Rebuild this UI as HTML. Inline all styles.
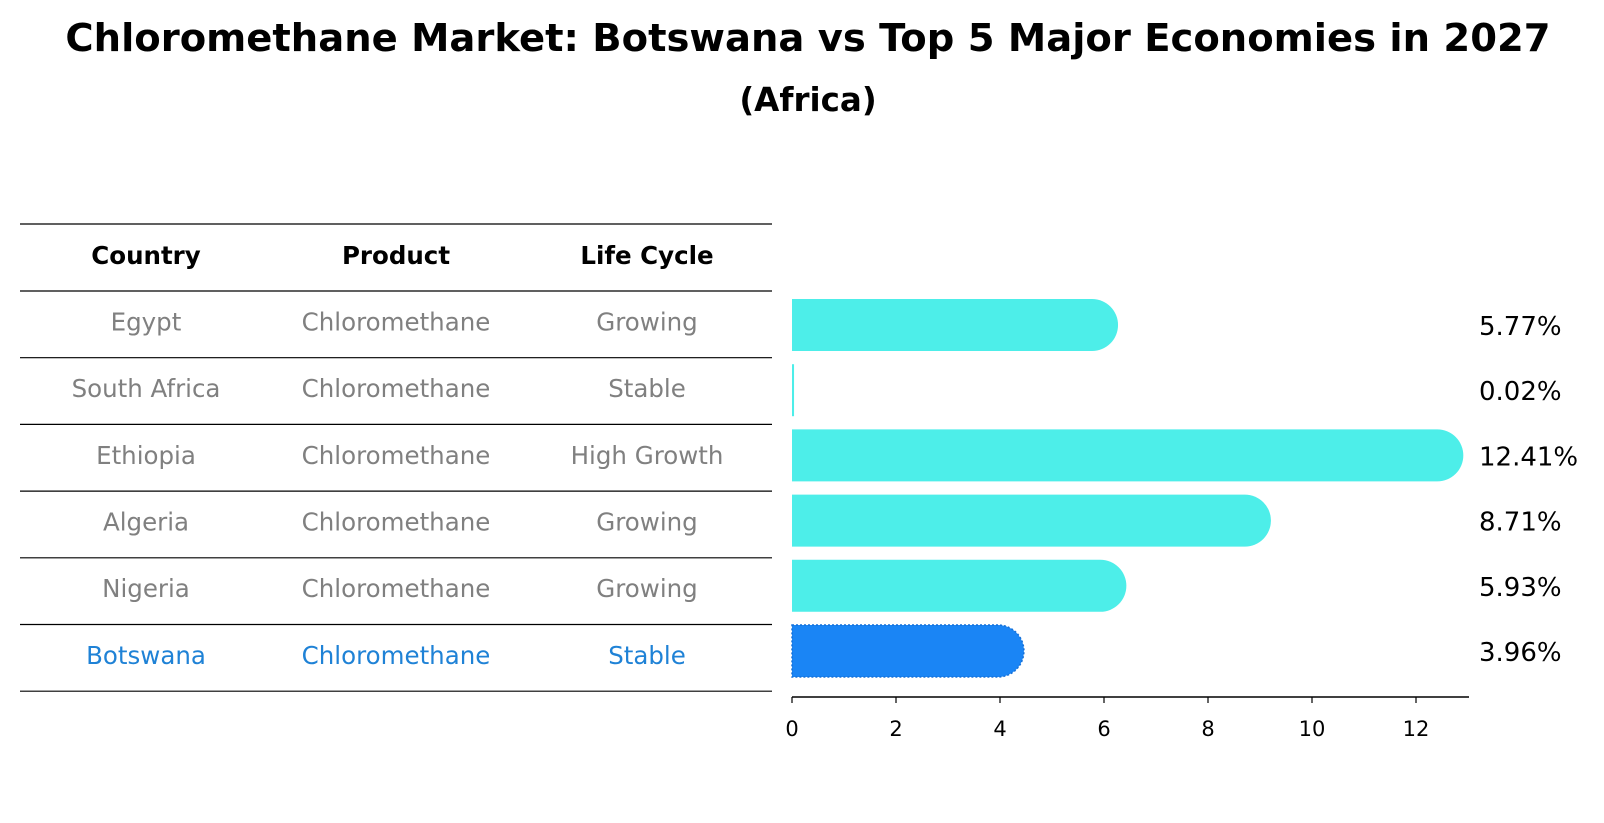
<!DOCTYPE html>
<html><head><meta charset="utf-8"><style>
body{margin:0;background:#fff;}
svg{display:block;font-family:"DejaVu Sans","Liberation Sans",sans-serif;}
</style></head><body>
<svg width="1604" height="823" viewBox="0 0 1604 823" xmlns="http://www.w3.org/2000/svg">
<text x="808" y="51" text-anchor="middle" font-size="38.5" font-weight="bold">Chloromethane Market: Botswana vs Top 5 Major Economies in 2027</text>
<text x="808" y="111" text-anchor="middle" font-size="32.5" font-weight="bold">(Africa)</text>
<g id="table"></g>
<g id="bars"></g>
</svg>
<script>
const countries=["Egypt","South Africa","Ethiopia","Algeria","Nigeria","Botswana"];
const products=["Chloromethane","Chloromethane","Chloromethane","Chloromethane","Chloromethane","Chloromethane"];
const lifeCycles=["Growing","Stable","High Growth","Growing","Growing","Stable"];
const values=[5.77,0.02,12.41,8.71,5.93,3.96];
const tickLabels=[0,2,4,6,8,10,12];
const NS="http://www.w3.org/2000/svg";
function mk(t,a,p){const e=document.createElementNS(NS,t);for(const k in a)e.setAttribute(k,a[k]);p.appendChild(e);return e;}
const tbl=document.getElementById('table');
const lineYs=[224,291];const rowH=66.7;
for(let i=1;i<=countries.length;i++)lineYs.push(291+rowH*i);
lineYs.forEach((y,i)=>{const l=mk('line',{x1:20,x2:772,y1:y,y2:y,stroke:'#000','stroke-width':1.2},tbl);

});
const colX=[146,396,647];
["Country","Product","Life Cycle"].forEach((h,i)=>{const t=mk('text',{x:colX[i],y:264,'text-anchor':'middle','font-size':24.5,'font-weight':'bold'},tbl);t.textContent=h;

});
countries.forEach((c,r)=>{const y=291+rowH*r+rowH/2+6;const col=c==="Botswana"?"#1f82d6":"#808080";
[c,products[r],lifeCycles[r]].forEach((v,i)=>{const t=mk('text',{x:colX[i],y:y,'text-anchor':'middle','font-size':24.5,fill:col},tbl);t.textContent=v;

});});
const g=document.getElementById('bars');
const x0=792,ppu=52;const xs=v=>x0+v*ppu;
const rowY=i=>325+i*65.2;const bh=52,rad=26;
values.forEach((v,i)=>{const yc=rowY(i);const xe=xs(v);const bot=countries[i]==="Botswana";
let d;
if(v<0.5){d=`M${x0},${yc-bh/2} H${xe+1} V${yc+bh/2} H${x0} Z`;}
else{d=`M${x0},${yc-bh/2} H${xe} A${rad},${rad} 0 0 1 ${xe},${yc+bh/2} H${x0} Z`;}
const p=mk('path',{d:d,fill:bot?'#1a85f5':'#4deee9'},g);
if(bot){p.setAttribute('stroke','#1570d8');p.setAttribute('stroke-dasharray','2,2');p.setAttribute('stroke-width','1.5');}


const t=mk('text',{x:1479,y:yc+10,'font-size':26},g);t.textContent=v.toFixed(2)+'%';

});
const ax=mk('line',{x1:x0,x2:1469,y1:697,y2:697,stroke:'#000','stroke-width':1.5},g);


tickLabels.forEach(v=>{const tk=mk('line',{x1:xs(v),x2:xs(v),y1:697,y2:703,stroke:'#000','stroke-width':1.2},g);


const t=mk('text',{x:xs(v),y:736,'text-anchor':'middle','font-size':21},g);t.textContent=v;

});
</script>
</body></html>
